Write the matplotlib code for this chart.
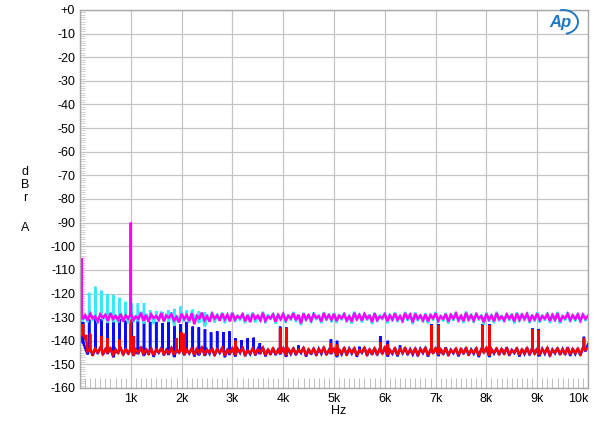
#!/usr/bin/env python3
# -*- coding: utf-8 -*-
import matplotlib

matplotlib.use("Agg")
import matplotlib.pyplot as plt
import numpy as np
from matplotlib.patches import Arc
from matplotlib.ticker import MultipleLocator

# noise floor, read every 50 Hz from 0 to 10 kHz (dBrA), one row per kHz
floor_hz = np.linspace(0, 10000, 201)

magenta_floor = [
    -128.8, -130.9, -129.2, -131.4, -128.6, -130.5, -129.7, -131.8, -128.9, -130.2, -129.0, -131.6, -128.4, -130.8, -129.5, -131.1, -128.7, -131.9, -129.3, -130.6,
    -128.5, -131.3, -129.8, -130.7, -128.2, -131.5, -129.1, -132.0, -128.9, -130.4, -129.6, -131.2, -128.3, -131.7, -129.4, -130.3, -128.8, -131.4, -129.9, -132.3,
    -128.6, -130.8, -129.2, -131.6, -128.4, -133.0, -129.5, -130.5, -128.1, -131.3, -129.7, -131.9, -128.7, -130.6, -129.3, -131.5, -128.5, -130.9, -129.0, -131.8,
    -128.3, -131.0, -129.6, -130.4, -128.8, -131.7, -129.2, -132.1, -128.6, -130.7, -129.4, -131.3, -128.2, -131.6, -129.8, -130.5, -128.9, -131.9, -129.1, -130.8,
    -128.7, -131.4, -129.5, -130.6, -128.4, -131.2, -129.0, -132.6, -128.5, -130.9, -129.3, -131.5, -128.8, -130.3, -129.6, -131.8, -128.3, -130.7, -129.2, -131.1,
    -128.6, -131.6, -129.4, -130.5, -128.9, -131.3, -129.7, -131.9, -128.2, -130.8, -129.1, -131.4, -128.7, -130.6, -129.5, -132.0, -128.4, -131.2, -129.8, -130.4,
    -128.8, -131.7, -129.3, -130.9, -128.5, -131.1, -129.6, -131.5, -128.3, -130.6, -129.0, -132.2, -128.6, -130.7, -129.4, -131.3, -128.9, -131.8, -129.2, -130.5,
    -128.4, -131.5, -129.7, -130.8, -128.7, -131.9, -129.1, -130.6, -128.5, -131.2, -129.5, -131.6, -128.2, -130.9, -129.3, -131.4, -128.8, -130.5, -129.6, -132.1,
    -128.6, -131.0, -129.4, -131.7, -128.3, -130.8, -129.8, -131.3, -128.9, -130.6, -129.2, -131.8, -128.5, -131.1, -129.0, -130.7, -128.7, -131.5, -129.5, -130.9,
    -128.5, -131.3, -129.6, -130.6, -128.8, -131.6, -129.1, -131.0, -128.4, -131.9, -129.7, -130.5, -128.6, -131.2, -129.3, -130.8, -128.9, -131.4, -129.0, -130.7,
    -129.5,
]
cyan_floor = [
    -128.0, -131.6, -128.9, -132.2, -127.8, -131.0, -129.4, -132.5, -128.3, -131.3, -128.7, -132.0, -127.9, -131.7, -129.0, -132.4, -128.2, -131.1, -128.8, -132.7,
    -128.1, -132.1, -129.2, -131.4, -127.7, -132.3, -128.6, -131.8, -128.4, -132.9, -129.1, -131.2, -127.9, -132.0, -128.5, -131.6, -128.0, -133.3, -129.3, -131.5,
    -128.2, -131.9, -128.8, -132.4, -127.6, -131.3, -129.0, -132.1, -128.3, -133.6, -128.9, -131.7, -127.8, -132.3, -128.6, -131.4, -128.1, -132.6, -129.2, -131.2,
    -127.9, -132.0, -129.1, -131.5, -128.4, -132.6, -128.7, -131.3, -128.0, -132.2, -129.3, -131.8, -127.7, -132.5, -128.8, -131.1, -128.3, -132.8, -128.6, -131.6,
    -128.2, -132.3, -128.9, -131.4, -127.8, -132.0, -129.2, -133.4, -128.1, -131.7, -128.7, -132.4, -128.0, -131.2, -129.0, -132.6, -127.9, -131.5, -128.6, -132.1,
    -128.3, -132.5, -128.8, -131.3, -128.0, -132.2, -129.1, -132.8, -127.7, -131.6, -128.5, -132.3, -128.2, -131.4, -128.9, -132.9, -128.1, -132.0, -129.0, -131.2,
    -128.1, -132.6, -128.7, -131.8, -127.9, -132.0, -129.0, -132.4, -127.8, -131.5, -128.4, -133.0, -128.0, -131.6, -128.8, -132.2, -128.3, -132.7, -128.6, -131.4,
    -127.8, -132.4, -129.1, -131.7, -128.2, -132.8, -128.5, -131.5, -128.0, -132.1, -128.9, -132.5, -127.6, -131.8, -128.7, -132.3, -128.2, -131.4, -129.0, -133.1,
    -128.0, -131.9, -128.8, -132.6, -127.7, -131.7, -129.2, -132.2, -128.3, -131.5, -128.6, -132.7, -127.9, -132.0, -128.4, -131.6, -128.1, -132.4, -128.9, -131.8,
    -127.9, -132.2, -129.0, -131.5, -128.2, -132.5, -128.5, -131.9, -127.8, -132.8, -129.1, -131.4, -128.0, -132.1, -128.7, -131.7, -128.3, -132.3, -128.4, -131.6,
    -129.3,
]
blue_floor = [
    -131.0, -140.5, -143.0, -145.8, -143.4, -146.3, -143.1, -145.5, -142.8, -146.0, -143.6, -145.2, -143.0, -146.6, -143.7, -145.4, -142.9, -146.1, -143.3, -145.7,
    -143.1, -146.4, -143.8, -145.3, -142.7, -146.0, -143.5, -145.9, -143.2, -146.8, -143.6, -145.1, -143.0, -146.2, -143.9, -145.6, -142.8, -146.5, -143.4, -145.3,
    -142.9, -146.1, -143.7, -145.4, -143.1, -146.7, -143.3, -145.8, -142.6, -146.0, -143.8, -145.5, -143.2, -146.4, -143.5, -145.2, -142.9, -147.0, -143.6, -145.6,
    -143.0, -146.3, -143.4, -145.1, -142.8, -146.5, -143.9, -145.7, -143.2, -146.2, -143.5, -145.3, -142.7, -146.6, -143.6, -145.9, -143.1, -146.0, -143.8, -145.4,
    -142.9, -146.4, -143.3, -145.6, -143.0, -146.1, -143.7, -145.2, -142.8, -146.7, -143.5, -145.8, -143.1, -146.3, -143.4, -145.5, -142.7, -146.0, -143.9, -145.3,
    -143.2, -146.5, -143.6, -145.7, -142.9, -146.2, -143.3, -145.4, -143.0, -146.8, -143.8, -145.1, -142.8, -146.4, -143.5, -145.9, -143.1, -146.1, -143.4, -145.6,
    -142.7, -146.3, -143.9, -145.5, -143.0, -146.6, -143.2, -145.3, -142.9, -146.0, -143.6, -145.8, -143.1, -146.5, -143.4, -145.2, -142.8, -146.7, -143.7, -145.4,
    -143.0, -146.1, -143.5, -145.9, -142.8, -146.4, -143.8, -145.3, -143.2, -146.6, -143.3, -145.6, -142.9, -146.2, -143.7, -145.5, -143.0, -146.9, -143.4, -145.1,
    -142.8, -146.5, -143.6, -145.4, -143.1, -146.0, -143.3, -145.8, -142.7, -146.3, -143.9, -145.2, -143.0, -146.7, -143.5, -145.6, -142.9, -146.1, -143.2, -145.7,
    -143.1, -146.2, -143.4, -145.5, -142.8, -146.6, -143.7, -145.3, -143.0, -146.0, -143.5, -145.9, -142.7, -146.4, -143.3, -145.6, -143.2, -146.2, -143.0, -144.5,
    -141.5,
]
red_floor = [
    -133.5, -137.5, -139.0, -144.5, -143.6, -145.6, -143.3, -145.0, -143.2, -145.5, -143.8, -144.9, -143.3, -145.9, -143.9, -145.1, -143.2, -145.6, -143.5, -145.3,
    -143.4, -145.8, -143.9, -145.0, -143.0, -145.5, -143.7, -145.4, -143.4, -146.1, -143.8, -144.8, -143.3, -145.6, -144.1, -145.2, -143.1, -145.9, -143.6, -145.0,
    -143.2, -145.6, -143.9, -145.1, -143.4, -146.0, -143.5, -145.3, -143.0, -145.5, -144.0, -145.0, -143.5, -145.8, -143.7, -144.9, -143.2, -146.2, -143.8, -145.2,
    -143.3, -145.7, -143.6, -144.9, -143.1, -145.9, -144.1, -145.2, -143.4, -145.6, -143.7, -145.0, -143.0, -146.0, -143.8, -145.4, -143.3, -145.5, -144.0, -145.1,
    -143.2, -145.8, -143.5, -145.2, -143.3, -145.5, -143.9, -144.9, -143.1, -146.1, -143.7, -145.3, -143.4, -145.7, -143.6, -145.0, -143.0, -145.5, -144.1, -145.0,
    -143.4, -145.9, -143.8, -145.3, -143.2, -145.6, -143.5, -145.1, -143.3, -146.2, -144.0, -144.8, -143.1, -145.8, -143.7, -145.4, -143.3, -145.6, -143.6, -145.2,
    -143.0, -145.7, -144.1, -145.1, -143.3, -146.0, -143.4, -145.0, -143.2, -145.5, -143.8, -145.3, -143.4, -145.9, -143.6, -144.9, -143.1, -146.1, -143.9, -145.1,
    -143.3, -145.5, -143.7, -145.4, -143.1, -145.8, -144.0, -145.0, -143.4, -146.0, -143.5, -145.2, -143.2, -145.6, -143.9, -145.1, -143.3, -146.3, -143.6, -144.9,
    -143.1, -145.9, -143.8, -145.0, -143.4, -145.5, -143.5, -145.3, -143.0, -145.7, -144.1, -144.9, -143.3, -146.0, -143.7, -145.2, -143.2, -145.5, -143.4, -145.3,
    -143.4, -145.6, -143.6, -145.1, -143.1, -146.0, -143.9, -145.0, -143.3, -145.4, -143.7, -145.5, -143.0, -145.8, -143.5, -145.2, -143.4, -145.6, -143.2, -143.9,
    -143.0,
]

# discrete spectral lines (Hz, peak dBrA)
magenta_spike_hz = [25, 1000]
magenta_spike_db = [-105, -90]

cyan_spike_hz = [180, 300, 420, 540, 660, 780, 900, 1020, 1140, 1260,
                 1380, 1500, 1620, 1740, 1860, 1980, 2100, 2220, 2340, 2460]
cyan_spike_db = [-119.7, -117.1, -118.8, -120.2, -120.6, -121.8, -123.5, -124.0, -124.2, -124.0,
                 -127.0, -127.4, -127.8, -127.0, -126.5, -125.5, -127.2, -126.8, -127.5, -128.0]

blue_spike_hz = [60, 180, 300, 420, 540, 660, 780, 900,
                 1020, 1140, 1260, 1380, 1500, 1620, 1740, 1860, 1980, 2100,
                 2220, 2340, 2460, 2580, 2700, 2820, 2940,
                 3060, 3180, 3300, 3420, 3540,
                 3940, 4060, 4300, 4940, 5060, 5500, 5910, 6060, 6300,
                 6920, 7060, 7920, 8060, 8910, 9030, 9920, 10000]
blue_spike_db = [-132, -131, -131, -131, -131, -131, -131, -131.5,
                 -132, -131.5, -131.5, -132, -132, -132.5, -132, -132.5, -133, -132,
                 -134, -134.3, -135.2, -136.5, -136, -136.3, -136,
                 -139, -139.7, -139, -138.7, -141,
                 -134, -134.3, -142, -139.4, -140, -142.5, -138, -140, -142,
                 -133, -133, -133, -133, -134.8, -135, -138.3, -141.5]

red_spike_hz = [60, 120, 200, 420, 540, 780, 1000, 1060, 1900, 2000, 2060, 3060,
                3940, 4060, 4940, 5060, 5910, 6060, 6920, 7060, 7920, 8060,
                8910, 9030, 9920]
red_spike_db = [-133, -137.5, -137, -138, -139, -139.5, -131, -138, -139, -136.5, -137, -140,
                -134.5, -134.5, -141, -141.5, -140.5, -141.5, -133.5, -133.5, -133.5, -133.5,
                -135, -135.5, -139]

x_ticks = [0, 1000, 2000, 3000, 4000, 5000, 6000, 7000, 8000, 9000, 10000]
x_tick_labels = ["", "1k", "2k", "3k", "4k", "5k", "6k", "7k", "8k", "9k", "10k"]
y_ticks = list(range(0, -161, -10))
y_tick_labels = ["+0"] + ["-%d" % abs(v) for v in y_ticks[1:]]


def trace(floor, spike_hz, spike_db):
    # merge the floor samples with the spectral lines into one polyline
    pts = [(f, v) for f, v in zip(floor_hz, floor)]
    for f, p in zip(spike_hz, spike_db):
        base = floor[min(int(round(f / 50.0)), len(floor) - 1)]
        pts += [(f, base), (f + 0.01, p), (f + 0.02, base)]
    pts.sort(key=lambda t: t[0])
    return [t[0] for t in pts], [t[1] for t in pts]


def main() -> int:
    plt.rcParams["font.family"] = ["Liberation Sans", "DejaVu Sans"]
    fig = plt.figure(figsize=(6.0, 4.3), dpi=100)
    ax = fig.add_axes([80 / 600, 1 - 388 / 430, 508 / 600, 378 / 430])

    for floor, hz, db, col in [
        (blue_floor, blue_spike_hz, blue_spike_db, "#0a0aff"),
        (red_floor, red_spike_hz, red_spike_db, "#ff0000"),
        (cyan_floor, cyan_spike_hz, cyan_spike_db, "#38e8f8"),
        (magenta_floor, magenta_spike_hz, magenta_spike_db, "#ff00ff"),
    ]:
        xs, ys = trace(floor, hz, db)
        ax.plot(xs, ys, color=col, lw=1.8, solid_joinstyle="miter")

    ax.set_xlim(0, 10000)
    ax.set_ylim(-160, 0)
    ax.set_xticks(x_ticks)
    ax.set_xticklabels(x_tick_labels, fontsize=9)
    ax.get_xticklabels()[-1].set_horizontalalignment("right")
    ax.set_yticks(y_ticks)
    ax.set_yticklabels(y_tick_labels, fontsize=9)
    ax.xaxis.set_minor_locator(MultipleLocator(100))
    ax.yaxis.set_minor_locator(MultipleLocator(1))
    ax.tick_params(axis="both", which="major", length=0, pad=3.5)
    ax.tick_params(axis="x", which="minor", direction="in", length=7.5,
                   width=0.7, color="#bdbdbd")
    ax.tick_params(axis="y", which="minor", direction="in", length=3.5,
                   width=0.5, color="#bdbdbd")
    ax.grid(True, which="major", color="#c4c4c4", lw=0.9)
    ax.set_axisbelow(True)
    for s in ax.spines.values():
        s.set_color("#a8a8a8")
        s.set_linewidth(1.0)

    fig.text(339 / 600, 1 - 411 / 430, "Hz", ha="center", va="center", fontsize=9)
    for ch, yp in zip(["d", "B", "r", "A"], [172, 185, 198, 228]):
        fig.text(25 / 600, 1 - yp / 430, ch, ha="center", va="center", fontsize=9)

    # Ap logo
    blue = "#1f78c1"
    fig.text(560 / 600, 1 - 23 / 430, "Ap", ha="center", va="center", fontsize=12,
             style="italic", weight="bold", color=blue)
    fig.add_artist(Arc((563 / 600, 1 - 22 / 430), 30 / 600, 24 / 430, theta1=-80,
                       theta2=100, color=blue, lw=1.4, transform=fig.transFigure))

    fig.savefig("out.png", dpi=100)
    plt.close(fig)
    return 0


if __name__ == "__main__":
    raise SystemExit(main())
